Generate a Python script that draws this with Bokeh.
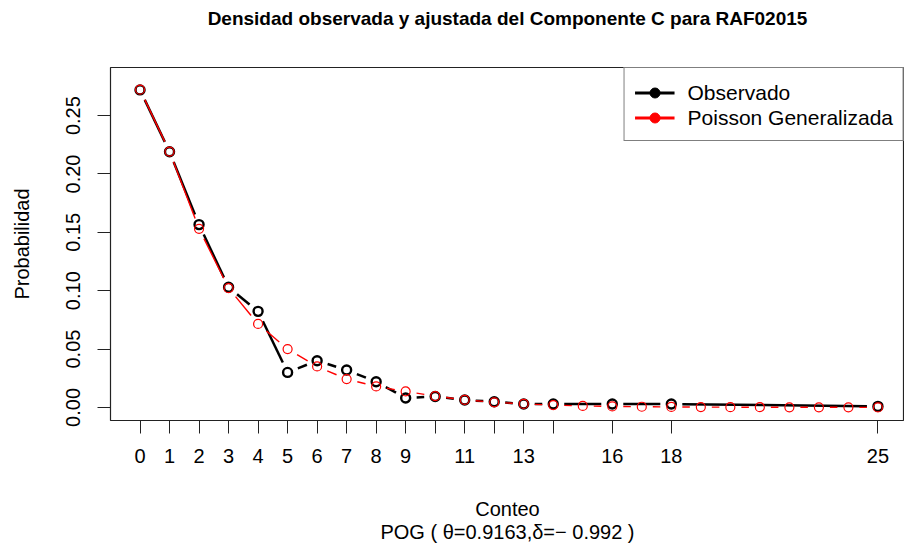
import math

from bokeh.embed import file_html
from bokeh.models import (ColumnDataSource, FixedTicker, Legend, LegendItem,
                          NumeralTickFormatter, Range1d)
from bokeh.plotting import figure
from bokeh.resources import INLINE

# Observed relative frequencies by count
conteo_obs = [0, 1, 2, 3, 4, 5, 6, 7, 8, 9, 10, 11, 12, 13, 14, 16, 18, 25]
prob_obs = [0.2720, 0.2190, 0.1566, 0.1029, 0.0823, 0.0300, 0.0400, 0.0320,
            0.0220, 0.0081, 0.0094, 0.0063, 0.0049, 0.0029, 0.0029, 0.0029,
            0.0029, 0.0009]

# Generalized Poisson fitted probabilities
conteo_fit = list(range(26))
prob_fit = [0.2722, 0.2192, 0.1530, 0.1022, 0.0715, 0.0500, 0.0351, 0.0243,
            0.0180, 0.0137, 0.0097, 0.0065, 0.0044, 0.0030, 0.0020, 0.0013,
            0.0009, 0.0006, 0.0004, 0.0003, 0.0002, 0.0002, 0.0001, 0.0001,
            0.0001, 0.0000]

# Axis ticks: every observed count gets a tick, only some get a label
x_labeled = [0, 1, 2, 3, 4, 5, 6, 7, 8, 9, 11, 13, 16, 18, 25]
y_ticks = [0.00, 0.05, 0.10, 0.15, 0.20, 0.25]

titulo = "Densidad observada y ajustada del Componente C para RAF02015"
etiqueta_x = "Conteo"
subtitulo = "POG ( \u03b8=0.9163,\u03b4=\u2212 0.992 )"
etiqueta_y = "Probabilidad"

FONT = "Liberation Sans"
W, H = 904, 546
B_LEFT, B_RIGHT, B_TOP, B_BOTTOM = 110, 0, 67, 126
FRAME_W = W - B_LEFT - B_RIGHT
FRAME_H = H - B_TOP - B_BOTTOM

x0, x1 = -1.0, 25.9
y0, y1 = -0.0112, 0.2912

p = figure(width=W, height=H, output_backend="svg", toolbar_location=None,
           x_range=Range1d(x0, x1), y_range=Range1d(y0, y1),
           min_border_left=B_LEFT, min_border_right=B_RIGHT,
           min_border_top=B_TOP, min_border_bottom=B_BOTTOM)
p.background_fill_color = "white"
p.border_fill_color = "white"
p.outline_line_color = "#222222"
p.outline_line_width = 1.2
p.grid.visible = False

# Title, pushed up to the top margin by an empty trailing line
p.title.text = titulo + "\n "
p.title.text_font = FONT
p.title.text_font_style = "bold"
p.title.text_font_size = "19px"
p.title.text_line_height = 1.5
p.title.align = "center"
p.title.vertical_align = "top"
p.title.text_color = "black"
p.title.standoff = 10

# x axis (label carries the subtitle on a second line)
xax = p.xaxis[0]
xax.ticker = FixedTicker(ticks=x_labeled,
                         minor_ticks=[c for c in conteo_obs if c not in x_labeled])
xax.axis_line_color = None
xax.major_tick_out = 13
xax.major_tick_in = 0
xax.minor_tick_out = 13
xax.minor_tick_in = 0
xax.major_tick_line_color = "#222222"
xax.minor_tick_line_color = "#222222"
xax.major_label_text_font = FONT
xax.major_label_text_font_size = "20px"
xax.major_label_text_color = "black"
xax.major_label_standoff = 15
xax.axis_label = etiqueta_x + "\n" + subtitulo
xax.axis_label_text_font = FONT
xax.axis_label_text_font_size = "20px"
xax.axis_label_text_font_style = "normal"
xax.axis_label_text_color = "black"
xax.axis_label_text_line_height = 1.05
xax.axis_label_standoff = 32

# y axis
yax = p.yaxis[0]
yax.ticker = FixedTicker(ticks=y_ticks, minor_ticks=[])
yax.formatter = NumeralTickFormatter(format="0.00")
yax.axis_line_color = None
yax.major_tick_out = 13
yax.major_tick_in = 0
yax.minor_tick_out = 0
yax.minor_tick_in = 0
yax.major_tick_line_color = "#222222"
yax.major_label_orientation = "vertical"
yax.major_label_text_font = FONT
yax.major_label_text_font_size = "20px"
yax.major_label_text_color = "black"
yax.major_label_standoff = 17
yax.axis_label = etiqueta_y
yax.axis_label_text_font = FONT
yax.axis_label_text_font_size = "20px"
yax.axis_label_text_font_style = "normal"
yax.axis_label_text_color = "black"
yax.axis_label_standoff = 31


def gapped_segments(xs, ys, gap_px):
    """Segments between consecutive points, trimmed by gap_px at each end."""
    sxp = FRAME_W / (x1 - x0)
    syp = FRAME_H / (y1 - y0)
    out = dict(x0=[], y0=[], x1=[], y1=[])
    for a, b, c, d in zip(xs[:-1], ys[:-1], xs[1:], ys[1:]):
        length = math.hypot((c - a) * sxp, (d - b) * syp)
        if length <= 2 * gap_px:
            continue
        f = gap_px / length
        out["x0"].append(a + (c - a) * f)
        out["y0"].append(b + (d - b) * f)
        out["x1"].append(c - (c - a) * f)
        out["y1"].append(d - (d - b) * f)
    return out


GAP = 11
obs_seg = gapped_segments(conteo_obs, prob_obs, GAP)
fit_seg = gapped_segments(conteo_fit, prob_fit, GAP)

p.segment(x0="x0", y0="y0", x1="x1", y1="y1", source=obs_seg,
          line_color="black", line_width=2.5)
p.scatter(conteo_obs, prob_obs, marker="circle", size=9, fill_color=None,
          line_color="black", line_width=2.4)

p.segment(x0="x0", y0="y0", x1="x1", y1="y1", source=fit_seg,
          line_color="#FF0000", line_width=1.4)
p.scatter(conteo_fit, prob_fit, marker="circle", size=9, fill_color=None,
          line_color="#FF0000", line_width=1.2)

# Legend keys: line with a filled dot (a single undrawn NaN row each)
key_src = ColumnDataSource(data=dict(x=[float("nan")], y=[float("nan")]))
leg_l1 = p.line("x", "y", source=key_src, line_color="black", line_width=3)
leg_s1 = p.scatter("x", "y", source=key_src, marker="circle", size=10,
                   fill_color="black", line_color="black")
leg_l2 = p.line("x", "y", source=key_src, line_color="#FF0000", line_width=3)
leg_s2 = p.scatter("x", "y", source=key_src, marker="circle", size=10,
                   fill_color="#FF0000", line_color="#FF0000")

legend = Legend(items=[LegendItem(label="Observado", renderers=[leg_l1, leg_s1]),
                       LegendItem(label="Poisson Generalizada", renderers=[leg_l2, leg_s2])],
                location="top_right", margin=0, padding=10, spacing=0,
                glyph_width=40, glyph_height=25, label_height=25,
                label_standoff=13, label_text_font=FONT,
                label_text_font_size="21px", label_text_color="black",
                border_line_color="black", border_line_width=1,
                background_fill_color="white", background_fill_alpha=1,
                title=" ", title_text_font_size="1px", title_standoff=1)
p.add_layout(legend)

open("out.html", "w").write(file_html(p, INLINE))
